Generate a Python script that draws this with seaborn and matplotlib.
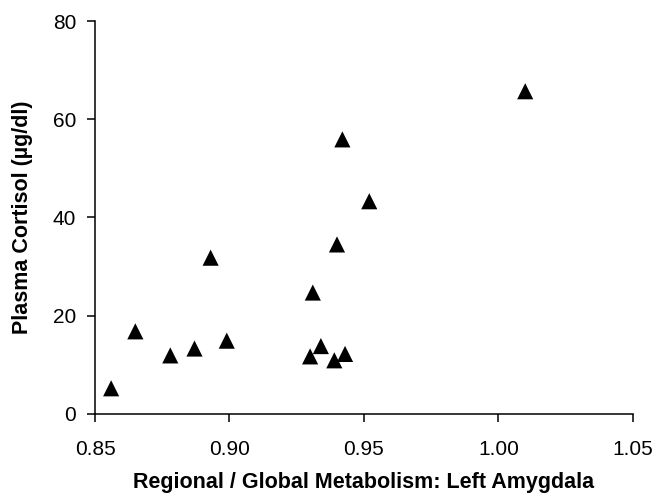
import matplotlib
matplotlib.use("Agg")
import matplotlib.pyplot as plt
import pandas as pd
import seaborn as sns

# values
metabolism = [0.856, 0.865, 0.878, 0.887, 0.893, 0.899, 0.930, 0.931, 0.934,
              0.939, 0.940, 0.942, 0.943, 0.952, 1.010]
cortisol = [5.2, 16.8, 11.9, 13.3, 31.8, 14.9, 11.7, 24.7, 13.8,
            10.9, 34.5, 55.9, 12.2, 43.3, 65.7]
x_ticks = [0.85, 0.90, 0.95, 1.00, 1.05]
y_ticks = [0, 20, 40, 60, 80]

df = pd.DataFrame({"Metabolism": metabolism, "Cortisol": cortisol})

sns.set_style("ticks")
plt.rcParams["font.family"] = ["Liberation Sans", "DejaVu Sans"]
plt.rcParams["text.color"] = "black"
plt.rcParams["axes.labelcolor"] = "black"
plt.rcParams["xtick.color"] = "black"
plt.rcParams["ytick.color"] = "black"

fig = plt.figure(figsize=(6.71, 5.01), dpi=100)
ax = fig.add_axes([0.1416, 0.174, 0.8014, 0.784])

sns.scatterplot(data=df, x="Metabolism", y="Cortisol", marker="^",
                color="black", edgecolor="none", s=135, ax=ax)

ax.set_xlim(0.85, 1.05)
ax.set_ylim(0, 80)
ax.set_xticks(x_ticks)
ax.set_xticklabels([f"{t:.2f}" for t in x_ticks])
ax.set_yticks(y_ticks)
ax.set_yticklabels([str(t) for t in y_ticks])
ax.tick_params(axis="both", labelsize=15, length=5.5, width=1.1)
ax.tick_params(axis="x", pad=13)
ax.tick_params(axis="y", pad=8)

ax.set_xlabel("Regional / Global Metabolism: Left Amygdala",
              fontsize=15.5, fontweight="bold", labelpad=10)
ax.set_ylabel("Plasma Cortisol (\u00b5g/dl)", fontsize=15.5,
              fontweight="bold", labelpad=14)

sns.despine(ax=ax)
for s in ["left", "bottom"]:
    ax.spines[s].set_linewidth(1.1)
    ax.spines[s].set_color("black")

fig.savefig("out.png", dpi=100)
